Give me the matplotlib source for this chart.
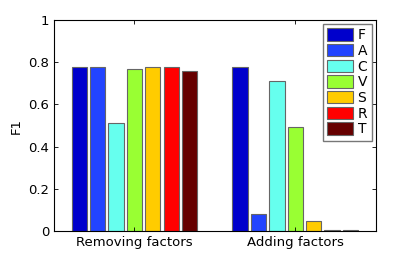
import numpy as np
import matplotlib
matplotlib.use("Agg")
import matplotlib.pyplot as plt

groups = ["Removing factors", "Adding factors"]
factors = ["F", "A", "C", "V", "S", "R", "T"]
removing = [0.778, 0.778, 0.51, 0.766, 0.778, 0.778, 0.76]
adding = [0.778, 0.079, 0.71, 0.494, 0.046, 0.003, 0.003]
colors = ["#0000cc", "#2244ff", "#66ffee", "#99ff33", "#ffcc00", "#ff0000", "#660000"]

plt.rcParams["font.family"] = "DejaVu Sans"
fig = plt.figure(figsize=(4.15, 2.6), dpi=100)
ax = fig.add_axes([54 / 415, 29 / 260, 321.7 / 415, 211 / 260])

x = np.arange(1, len(groups) + 1)
slot = 0.8 / len(factors)
vals = np.array([removing, adding])
for i, f in enumerate(factors):
    off = (i - (len(factors) - 1) / 2) * slot
    ax.bar(x + off, vals[:, i], width=slot * 0.83, color=colors[i],
           edgecolor="#666666", linewidth=0.8, label=f)

ax.set_xlim(0.5, 2.5)
ax.set_ylim(0, 1)
ax.set_xticks(x)
ax.set_xticklabels(groups, fontsize=9.5)
ax.set_yticks([0, 0.2, 0.4, 0.6, 0.8, 1])
ax.set_yticklabels(["0", "0.2", "0.4", "0.6", "0.8", "1"], fontsize=9.5)
ax.set_ylabel("F1", fontsize=9.5)
ax.tick_params(direction="in", top=True, right=True, length=3, width=0.6)
for s in ax.spines.values():
    s.set_linewidth(0.8)

leg = ax.legend(loc="upper right", fontsize=10, handlelength=1.9, handleheight=1.0,
                handletextpad=0.3, labelspacing=0.12, borderpad=0.3,
                fancybox=False, framealpha=1, borderaxespad=0.3)
leg.get_frame().set_edgecolor("#777777")
leg.get_frame().set_linewidth(1)

fig.savefig("out.png", dpi=100)
